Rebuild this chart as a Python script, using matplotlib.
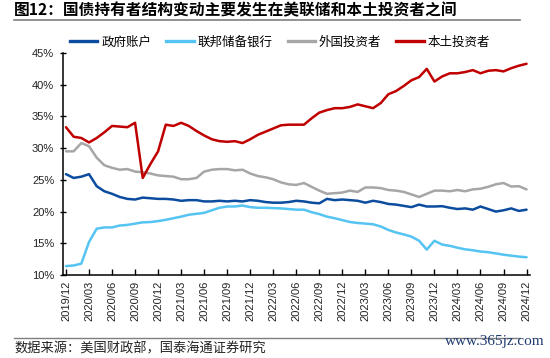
import matplotlib
matplotlib.use("Agg")
import matplotlib.pyplot as plt
from matplotlib.ticker import FuncFormatter
import matplotlib.lines as mlines

plt.rcParams['font.family'] = ['Noto Sans CJK SC', 'DejaVu Sans']

# ---- data -------------------------------------------------------------
months = []
for y in range(2019, 2025):
    for m in range(1, 13):
        if (y == 2019 and m < 12):
            continue
        months.append(f"{y}/{m:02d}")

series_names = ["政府账户", "联邦储备银行", "外国投资者", "本土投资者"]

gov = [25.9, 25.3, 25.5, 25.9, 24.0, 23.2, 22.8, 22.3, 22.0, 21.9,
       22.2, 22.1, 22.0, 22.0, 21.9, 21.7, 21.8, 21.8, 21.6, 21.6,
       21.7, 21.6, 21.7, 21.6, 21.8, 21.7, 21.5, 21.4, 21.4, 21.5,
       21.7, 21.6, 21.4, 21.3, 22.0, 21.8, 21.9, 21.8, 21.7, 21.4,
       21.7, 21.5, 21.2, 21.1, 20.9, 20.7, 21.1, 20.8, 20.8, 20.85,
       20.6, 20.4, 20.5, 20.3, 20.8, 20.4, 20.0, 20.2, 20.5, 20.1,
       20.3]

fed = [11.4, 11.5, 11.8, 15.2, 17.3, 17.5, 17.5, 17.8, 17.9, 18.1,
       18.3, 18.35, 18.5, 18.7, 18.95, 19.2, 19.5, 19.65, 19.8, 20.2,
       20.6, 20.8, 20.8, 20.95, 20.7, 20.6, 20.6, 20.55, 20.5, 20.4,
       20.3, 20.3, 19.9, 19.6, 19.2, 18.95, 18.65, 18.35, 18.2, 18.1,
       18.0, 17.65, 17.1, 16.7, 16.4, 16.05, 15.4, 14.0, 15.4, 14.8,
       14.6, 14.3, 14.05, 13.9, 13.7, 13.6, 13.4, 13.2, 13.05, 12.9,
       12.8]

foreign = [29.5, 29.5, 30.8, 30.3, 28.5, 27.3, 26.9, 26.6, 26.7, 26.3,
           26.2, 26.0, 25.7, 25.6, 25.5, 25.1, 25.1, 25.3, 26.3, 26.6,
           26.7, 26.7, 26.5, 26.6, 26.0, 25.6, 25.4, 25.1, 24.6, 24.3,
           24.2, 24.5, 23.9, 23.3, 22.8, 22.9, 23.0, 23.3, 23.1, 23.8,
           23.8, 23.7, 23.4, 23.3, 23.1, 22.7, 22.3, 22.8, 23.3, 23.3,
           23.2, 23.4, 23.2, 23.5, 23.6, 23.9, 24.3, 24.5, 23.95, 24.0,
           23.5]

domestic = [33.3, 31.8, 31.6, 30.9, 31.6, 32.5, 33.5, 33.4, 33.3, 34.0,
            25.3, 27.5, 29.5, 33.7, 33.5, 34.0, 33.5, 32.7, 32.0, 31.4,
            31.1, 31.0, 31.1, 30.8, 31.4, 32.1, 32.6, 33.1, 33.6, 33.7,
            33.7, 33.7, 34.7, 35.6, 36.0, 36.3, 36.3, 36.5, 36.9, 36.6,
            36.3, 37.1, 38.5, 39.0, 39.8, 40.7, 41.2, 42.5, 40.5, 41.3,
            41.8, 41.8, 42.0, 42.3, 41.8, 42.2, 42.3, 42.1, 42.6, 43.0,
            43.3]

colors = ["#0B4C9E", "#55C4F2", "#A6A6A6", "#C00000"]

# ---- figure -------------------------------------------------------------
W, H = 550, 358
fig = plt.figure(figsize=(W / 100, H / 100), dpi=100)

def fx(px):
    return px / W

def fy(py):
    return 1 - py / H

ax = fig.add_axes([fx(63.3), fy(275), fx(530) - fx(63.3), fy(53) - fy(275)])

x = list(range(len(months)))
for vals, c, name in zip([gov, fed, foreign, domestic], colors, series_names):
    ax.plot(x, vals, color=c, lw=1.8, label=name,
            solid_capstyle='round', solid_joinstyle='round')

ax.set_xlim(-0.35, 60.45)
ax.set_ylim(10, 45)
ax.set_yticks(range(10, 46, 5))
ax.yaxis.set_major_formatter(FuncFormatter(lambda v, p: f"{int(v)}%"))
tick_idx = list(range(0, len(months), 3))
ax.set_xticks(tick_idx)
ax.set_xticklabels([months[i] for i in tick_idx], rotation=90,
                   fontfamily='Liberation Sans', fontsize=8)
for lab in ax.get_yticklabels():
    lab.set_fontfamily('Liberation Sans')
    lab.set_fontsize(8)

for s in ['top', 'right']:
    ax.spines[s].set_visible(False)
for s in ['left', 'bottom']:
    ax.spines[s].set_color('black')
    ax.spines[s].set_linewidth(1.1)
ax.tick_params(axis='y', direction='inout', length=5, width=1, pad=4, colors='black')
ax.tick_params(axis='x', direction='in', length=4, width=1, pad=4, colors='black')
ax.tick_params(axis='both', labelcolor='#222222')

# legend
handles = [mlines.Line2D([], [], color=c, lw=2.4) for c in colors]
fig.legend(handles, series_names, loc='center left',
           bbox_to_anchor=(fx(70), fy(42)), ncol=4, frameon=False,
           fontsize=9, handlelength=2.2, handletextpad=0.3,
           columnspacing=1.2, borderpad=0, borderaxespad=0)

# title
fig.text(fx(14), fy(10), "图12：国债持有者结构变动主要发生在美联储和本土投资者之间",
         fontsize=11.3, fontweight='bold', va='center', ha='left', color='black')
fig.add_artist(mlines.Line2D([fx(14), fx(520)], [fy(20), fy(20)],
                             color='#7F7F7F', lw=1.2))

# source
fig.add_artist(mlines.Line2D([fx(14), fx(520)], [fy(337.5), fy(337.5)],
                             color='#7F7F7F', lw=1.0))
fig.text(fx(14), fy(349), "数据来源：美国财政部，国泰海通证券研究",
         fontsize=9.5, va='center', ha='left', color='#222222')
fig.text(fx(545), fy(341), "www.365jz.com", fontsize=11,
         fontfamily='Liberation Serif', va='center', ha='right',
         color='#1F3A6E')

fig.savefig("out.png", dpi=100)
